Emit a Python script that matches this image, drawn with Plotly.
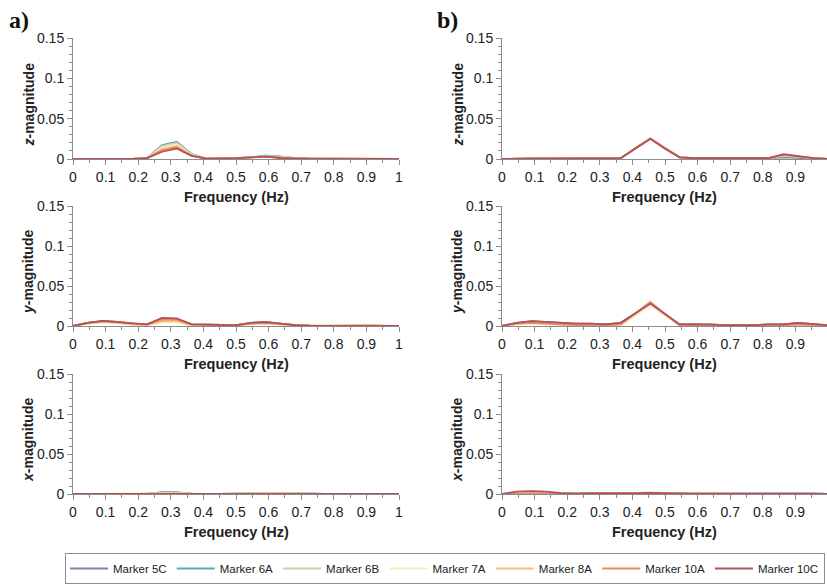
import plotly.graph_objects as go

# ---------------- data ----------------
freq = [0, 0.045, 0.091, 0.136, 0.182, 0.227, 0.273, 0.318, 0.364, 0.409, 0.455, 0.5,
        0.545, 0.591, 0.636, 0.682, 0.727, 0.773, 0.818, 0.864, 0.909, 0.955, 1.0]

markers = ["Marker 5C", "Marker 6A", "Marker 6B", "Marker 7A", "Marker 8A", "Marker 10A", "Marker 10C"]
colors = ["#8a7fa2", "#5fa4bd", "#c3d5ae", "#f5ebb8", "#f6c27a", "#ee8a62", "#b2505c"]

# panel a) z-magnitude
a_z_5C  = [0, 0, 0, 0, 0, 0.001, 0.017, 0.021, 0.006, 0.0005, 0.0005, 0.001, 0.002, 0.004, 0.003, 0.001, 0.0005, 0.0005, 0.0005, 0.0005, 0.0005, 0.0005, 0]
a_z_6A  = [0, 0, 0, 0, 0, 0.001, 0.017, 0.021, 0.006, 0.0005, 0.0005, 0.001, 0.002, 0.004, 0.003, 0.001, 0.0005, 0.0005, 0.0005, 0.0005, 0.0005, 0.0005, 0]
a_z_6B  = [0, 0, 0, 0, 0, 0.001, 0.016, 0.020, 0.006, 0.0005, 0.0005, 0.001, 0.002, 0.0035, 0.003, 0.001, 0.0005, 0.0005, 0.0005, 0.0005, 0.0005, 0.0005, 0]
a_z_7A  = [0, 0, 0, 0, 0, 0.001, 0.014, 0.018, 0.005, 0.0005, 0.0005, 0.001, 0.002, 0.003, 0.002, 0.001, 0.0005, 0.0005, 0.0005, 0.0005, 0.0005, 0.0005, 0]
a_z_8A  = [0, 0, 0, 0, 0, 0.001, 0.012, 0.016, 0.005, 0.0005, 0.0005, 0.001, 0.002, 0.003, 0.002, 0.001, 0.0005, 0.0005, 0.0005, 0.0005, 0.0005, 0.0005, 0]
a_z_10A = [0, 0, 0, 0, 0, 0.001, 0.011, 0.015, 0.004, 0.0005, 0.0005, 0.001, 0.002, 0.003, 0.002, 0.0005, 0.0005, 0.0005, 0.0005, 0.0005, 0.0005, 0.0005, 0]
a_z_10C = [0, 0, 0, 0, 0, 0.001, 0.009, 0.013, 0.004, 0.0005, 0.0005, 0.001, 0.002, 0.003, 0.001, 0.0005, 0.0005, 0.0005, 0.0005, 0.0005, 0.0005, 0.0005, 0]

# panel b) z-magnitude
b_z_5C  = [0, 0.0005, 0.0005, 0.0005, 0.0005, 0.0005, 0.0005, 0.0005, 0.001, 0.013, 0.025, 0.013, 0.002, 0.001, 0.001, 0.0005, 0.0005, 0.0005, 0.001, 0.002, 0.0015, 0.001, 0]
b_z_6A  = [0, 0.0005, 0.0005, 0.0005, 0.0005, 0.0005, 0.0005, 0.0005, 0.001, 0.013, 0.025, 0.013, 0.002, 0.001, 0.001, 0.0005, 0.0005, 0.0005, 0.001, 0.003, 0.002, 0.001, 0]
b_z_6B  = [0, 0.0005, 0.0005, 0.0005, 0.0005, 0.0005, 0.0005, 0.0005, 0.001, 0.0135, 0.026, 0.014, 0.002, 0.001, 0.001, 0.0005, 0.0005, 0.0005, 0.001, 0.004, 0.0025, 0.001, 0]
b_z_7A  = [0, 0.0005, 0.0005, 0.0005, 0.0005, 0.0005, 0.0005, 0.0005, 0.001, 0.0135, 0.026, 0.014, 0.002, 0.001, 0.001, 0.0005, 0.0005, 0.0005, 0.001, 0.005, 0.003, 0.001, 0]
b_z_8A  = [0, 0.0005, 0.0005, 0.0005, 0.0005, 0.0005, 0.0005, 0.0005, 0.001, 0.0135, 0.026, 0.014, 0.002, 0.001, 0.001, 0.0005, 0.0005, 0.0005, 0.001, 0.005, 0.003, 0.001, 0]
b_z_10A = [0, 0.0005, 0.0005, 0.0005, 0.0005, 0.0005, 0.0005, 0.0005, 0.001, 0.013, 0.025, 0.013, 0.002, 0.001, 0.001, 0.0005, 0.0005, 0.0005, 0.001, 0.005, 0.003, 0.001, 0]
b_z_10C = [0, 0.0008, 0.0008, 0.0008, 0.0008, 0.0008, 0.0008, 0.0008, 0.001, 0.013, 0.025, 0.013, 0.002, 0.001, 0.001, 0.0008, 0.0008, 0.0008, 0.001, 0.006, 0.0035, 0.001, 0]

# panel a) y-magnitude
a_y_5C  = [0, 0.004, 0.006, 0.005, 0.003, 0.002, 0.009, 0.009, 0.002, 0.0015, 0.0015, 0.001, 0.004, 0.005, 0.003, 0.001, 0.0005, 0.0005, 0.0005, 0.0005, 0.0005, 0.0005, 0]
a_y_6A  = [0, 0.004, 0.006, 0.005, 0.003, 0.002, 0.008, 0.008, 0.002, 0.0015, 0.0015, 0.001, 0.003, 0.004, 0.003, 0.001, 0.0005, 0.0005, 0.0005, 0.0005, 0.0005, 0.0005, 0]
a_y_6B  = [0, 0.004, 0.005, 0.004, 0.002, 0.002, 0.007, 0.007, 0.002, 0.0015, 0.0015, 0.001, 0.003, 0.004, 0.002, 0.001, 0.0005, 0.0005, 0.0005, 0.001, 0.001, 0.0005, 0]
a_y_7A  = [0, 0.003, 0.005, 0.004, 0.002, 0.001, 0.005, 0.005, 0.001, 0.001, 0.001, 0.001, 0.002, 0.003, 0.002, 0.001, 0.0005, 0.0005, 0.001, 0.0015, 0.0015, 0.0005, 0]
a_y_8A  = [0, 0.003, 0.005, 0.004, 0.002, 0.001, 0.006, 0.006, 0.001, 0.001, 0.001, 0.001, 0.003, 0.003, 0.002, 0.001, 0.0005, 0.0005, 0.001, 0.0015, 0.0015, 0.0005, 0]
a_y_10A = [0, 0.004, 0.006, 0.005, 0.003, 0.002, 0.008, 0.008, 0.002, 0.0015, 0.0015, 0.001, 0.003, 0.004, 0.003, 0.001, 0.0005, 0.0005, 0.0005, 0.0005, 0.0005, 0.0005, 0]
a_y_10C = [0, 0.004, 0.0065, 0.005, 0.003, 0.002, 0.010, 0.0095, 0.002, 0.0015, 0.0015, 0.001, 0.004, 0.005, 0.003, 0.001, 0.0005, 0.0005, 0.0005, 0.0005, 0.0005, 0.0005, 0]

# panel b) y-magnitude
b_y_5C  = [0, 0.004, 0.006, 0.005, 0.004, 0.003, 0.003, 0.002, 0.004, 0.015, 0.027, 0.014, 0.002, 0.002, 0.002, 0.001, 0.001, 0.001, 0.002, 0.002, 0.004, 0.002, 0.001]
b_y_6A  = [0, 0.003, 0.005, 0.004, 0.003, 0.002, 0.002, 0.002, 0.003, 0.015, 0.027, 0.014, 0.002, 0.002, 0.001, 0.001, 0.001, 0.001, 0.001, 0.002, 0.003, 0.001, 0.001]
b_y_6B  = [0, 0.003, 0.004, 0.003, 0.002, 0.001, 0.001, 0.001, 0.002, 0.014, 0.027, 0.014, 0.001, 0.001, 0.001, 0.0005, 0.0005, 0.001, 0.001, 0.001, 0.002, 0.001, 0.0005]
b_y_7A  = [0, 0.002, 0.003, 0.002, 0.001, 0.0005, 0.0005, 0.0005, 0.001, 0.013, 0.026, 0.013, 0.001, 0.001, 0.001, 0.0005, 0.0005, 0.0005, 0.001, 0.001, 0.002, 0.001, 0.0005]
b_y_8A  = [0, 0.003, 0.004, 0.003, 0.002, 0.001, 0.001, 0.001, 0.002, 0.015, 0.029, 0.015, 0.001, 0.001, 0.001, 0.0005, 0.0005, 0.0005, 0.001, 0.001, 0.002, 0.001, 0.0005]
b_y_10A = [0, 0.003, 0.004, 0.003, 0.002, 0.001, 0.001, 0.001, 0.002, 0.016, 0.030, 0.015, 0.001, 0.001, 0.001, 0.0005, 0.0005, 0.0005, 0.001, 0.001, 0.002, 0.001, 0.0005]
b_y_10C = [0, 0.004, 0.006, 0.005, 0.004, 0.003, 0.003, 0.002, 0.004, 0.016, 0.028, 0.015, 0.002, 0.002, 0.002, 0.001, 0.001, 0.001, 0.002, 0.002, 0.004, 0.002, 0.001]

# panel a) x-magnitude
a_x_5C  = [0, 0, 0, 0, 0, 0.0005, 0.002, 0.002, 0.0005, 0, 0, 0.0005, 0.001, 0.0015, 0.001, 0.0005, 0, 0, 0, 0, 0, 0, 0]
a_x_6A  = [0, 0, 0, 0, 0, 0.0005, 0.002, 0.002, 0.0005, 0, 0, 0.0005, 0.001, 0.0015, 0.001, 0.0005, 0, 0, 0, 0, 0, 0, 0]
a_x_6B  = [0, 0, 0, 0, 0, 0.0005, 0.0015, 0.0015, 0.0005, 0, 0, 0.0005, 0.001, 0.001, 0.001, 0.0005, 0, 0, 0, 0, 0, 0, 0]
a_x_7A  = [0, 0, 0, 0, 0, 0.0005, 0.001, 0.001, 0.0005, 0, 0, 0.0005, 0.0005, 0.001, 0.0005, 0, 0, 0, 0, 0, 0, 0, 0]
a_x_8A  = [0, 0, 0, 0, 0, 0.0005, 0.001, 0.001, 0.0005, 0, 0, 0.0005, 0.0005, 0.001, 0.0005, 0, 0, 0, 0, 0, 0, 0, 0]
a_x_10A = [0, 0, 0, 0, 0, 0, 0.0005, 0.0005, 0, 0, 0, 0, 0.0005, 0.0005, 0.0005, 0, 0, 0, 0, 0, 0, 0, 0]
a_x_10C = [0, 0, 0, 0, 0, 0, 0.0005, 0.0005, 0, 0, 0, 0, 0.0005, 0.0005, 0, 0, 0, 0, 0, 0, 0, 0, 0]

# panel b) x-magnitude
b_x_5C  = [0, 0.0005, 0.0005, 0.0005, 0.0005, 0.0005, 0.0005, 0.0005, 0.0005, 0.001, 0.001, 0.0005, 0.0005, 0.0005, 0.0005, 0.0005, 0.0005, 0.0005, 0.0005, 0.0005, 0.0005, 0.0005, 0]
b_x_6A  = [0, 0.0005, 0.0005, 0.0005, 0.0005, 0.0005, 0.0005, 0.0005, 0.0005, 0.001, 0.001, 0.0005, 0.0005, 0.0005, 0.0005, 0.0005, 0.0005, 0.0005, 0.0005, 0.0005, 0.0005, 0.0005, 0]
b_x_6B  = [0, 0.0005, 0.0005, 0.0005, 0.0005, 0.0005, 0.0005, 0.0005, 0.0005, 0.0015, 0.0015, 0.0005, 0.0005, 0.0005, 0.0005, 0.0005, 0.0005, 0.0005, 0.0005, 0.0005, 0.0005, 0.0005, 0]
b_x_7A  = [0, 0.0005, 0.0005, 0.0005, 0.0005, 0.0005, 0.0005, 0.0005, 0.001, 0.0015, 0.0025, 0.0015, 0.0005, 0.0005, 0.0005, 0.0005, 0.0005, 0.0005, 0.0005, 0.0005, 0.0005, 0.0005, 0]
b_x_8A  = [0, 0.0005, 0.0005, 0.0005, 0.0005, 0.0005, 0.0005, 0.0005, 0.0005, 0.001, 0.0015, 0.001, 0.0005, 0.0005, 0.0005, 0.0005, 0.0005, 0.0005, 0.0005, 0.0005, 0.0005, 0.0005, 0]
b_x_10A = [0, 0.0003, 0.0003, 0.0003, 0.0003, 0.0003, 0.0003, 0.0003, 0.0003, 0.0003, 0.0003, 0.0003, 0.0003, 0.0003, 0.0003, 0.0003, 0.0003, 0.0003, 0.0003, 0.0003, 0.0003, 0.0003, 0]
b_x_10C = [0, 0.003, 0.0035, 0.003, 0.001, 0.0005, 0.001, 0.001, 0.0005, 0.001, 0.0015, 0.001, 0.0005, 0.0005, 0.0005, 0.0005, 0.0005, 0.0005, 0.0005, 0.001, 0.001, 0.0005, 0]

x_tickvals = [0, 0.1, 0.2, 0.3, 0.4, 0.5, 0.6, 0.7, 0.8, 0.9, 1.0]
x_ticktext = ["0", "0.1", "0.2", "0.3", "0.4", "0.5", "0.6", "0.7", "0.8", "0.9", "1"]
y_tickvals = [0, 0.05, 0.1, 0.15]
y_ticktext = ["0", "0.05", "0.1", "0.15"]
y_titles = ["<b><i>z</i>-magnitude</b>", "<b><i>y</i>-magnitude</b>", "<b><i>x</i>-magnitude</b>"]
x_title = "<b>Frequency (Hz)</b>"
panel_labels = ["a)", "b)"]

panels = [
    [a_z_5C, a_z_6A, a_z_6B, a_z_7A, a_z_8A, a_z_10A, a_z_10C],
    [b_z_5C, b_z_6A, b_z_6B, b_z_7A, b_z_8A, b_z_10A, b_z_10C],
    [a_y_5C, a_y_6A, a_y_6B, a_y_7A, a_y_8A, a_y_10A, a_y_10C],
    [b_y_5C, b_y_6A, b_y_6B, b_y_7A, b_y_8A, b_y_10A, b_y_10C],
    [a_x_5C, a_x_6A, a_x_6B, a_x_7A, a_x_8A, a_x_10A, a_x_10C],
    [b_x_5C, b_x_6A, b_x_6B, b_x_7A, b_x_8A, b_x_10A, b_x_10C],
]

# ---------------- layout geometry (pixels) ----------------
W, H = 827, 585
col_px = [(73, 399), (502, 827)]
row_px = [(38, 159), (206, 326), (374, 494)]
x_ranges = [[0, 1.0], [0, (827 - 502) / 326.0]]

FONT = "Liberation Sans, Arial, Helvetica, sans-serif"
AX_COLOR = "#8c8c8c"

fig = go.Figure()
layout = dict(
    template="none",
    width=W, height=H,
    margin=dict(l=0, r=0, t=0, b=0, pad=0, autoexpand=False),
    paper_bgcolor="white", plot_bgcolor="white",
    font=dict(family=FONT, size=14, color="#222"),
    showlegend=True,
    legend=dict(orientation="h", x=65 / W, y=1 - 553 / H, xanchor="left", yanchor="top",
                bordercolor="#8c8c8c", borderwidth=1, font=dict(size=11.5, color="#222"),
                bgcolor="white", tracegroupgap=0, itemwidth=38),
)

annotations = []
for p in range(6):
    r, c = divmod(p, 2)
    idx = "" if p == 0 else str(p + 1)
    x0, x1 = col_px[c]
    y0, y1 = row_px[r]
    layout["xaxis" + idx] = dict(
        domain=[x0 / W, min(x1 / W, 1.0)], anchor="y" + idx, range=x_ranges[c],
        tickvals=x_tickvals, ticktext=x_ticktext, showgrid=False, zeroline=False, automargin=False,
        showline=True, linecolor=AX_COLOR, linewidth=1, ticks="outside", ticklen=5,
        tickcolor=AX_COLOR, tickfont=dict(size=14, color="#222"),
        minor=dict(dtick=0.05, tick0=0, ticks="outside", ticklen=3, tickcolor=AX_COLOR, showgrid=False),
    )
    layout["yaxis" + idx] = dict(
        domain=[1 - y1 / H, 1 - y0 / H], anchor="x" + idx, range=[0, 0.15],
        tickvals=y_tickvals, ticktext=y_ticktext, showgrid=False, zeroline=False, automargin=False,
        showline=True, linecolor=AX_COLOR, linewidth=1, ticks="outside", ticklen=5,
        tickcolor=AX_COLOR, tickfont=dict(size=14, color="#222"),
        minor=dict(dtick=0.01, tick0=0, ticks="outside", ticklen=3, tickcolor=AX_COLOR, showgrid=False),
    )
    for k, (name, col) in enumerate(zip(markers, colors)):
        fig.add_trace(go.Scatter(
            x=freq, y=panels[p][k], mode="lines", name=name,
            line=dict(color=col, width=1.8),
            xaxis="x" + idx, yaxis="y" + idx,
            showlegend=(p == 0), legendgroup=name,
        ))
    # x axis title
    annotations.append(dict(
        text=x_title, xref="paper", yref="paper",
        x=((x0 + x1) / 2) / W, y=1 - (y1 + 38) / H, xanchor="center", yanchor="middle",
        showarrow=False, font=dict(size=14.5, color="#222"),
    ))
    # y axis title
    annotations.append(dict(
        text=y_titles[r], xref="paper", yref="paper",
        x=(x0 - 45) / W, y=1 - ((y0 + y1) / 2 + 6) / H, xanchor="center", yanchor="middle",
        textangle=-90, showarrow=False, font=dict(size=14, color="#222"),
    ))

annotations.append(dict(text="<b>" + panel_labels[0] + "</b>", xref="paper", yref="paper",
                        x=7 / W, y=1 - 20 / H, xanchor="left", yanchor="middle", showarrow=False,
                        font=dict(family="Liberation Serif, Times New Roman, serif", size=24, color="#111")))
annotations.append(dict(text="<b>" + panel_labels[1] + "</b>", xref="paper", yref="paper",
                        x=435 / W, y=1 - 20 / H, xanchor="left", yanchor="middle", showarrow=False,
                        font=dict(family="Liberation Serif, Times New Roman, serif", size=24, color="#111")))
layout["annotations"] = annotations

fig.update_layout(**layout)
fig.write_html("out.html")
